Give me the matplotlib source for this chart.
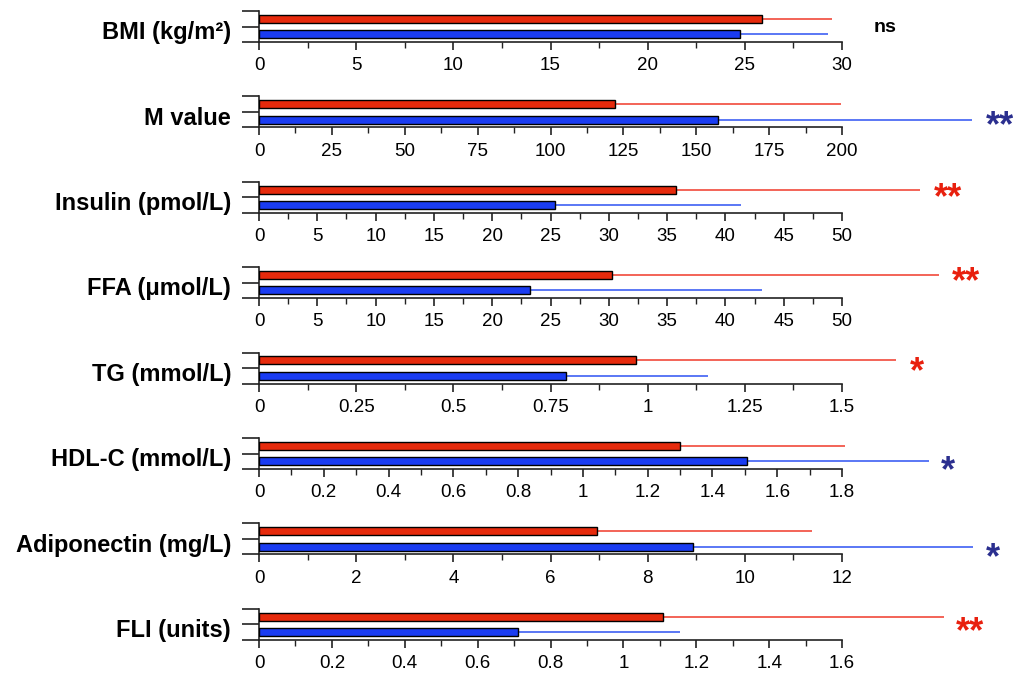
import matplotlib
matplotlib.use("Agg")
import matplotlib.pyplot as plt
from matplotlib.ticker import MultipleLocator, AutoMinorLocator, FuncFormatter

plt.rcParams['font.family'] = ['Liberation Sans', 'DejaVu Sans']

# data: red = upper bar, blue = lower bar
labels = ['BMI (kg/m\u00b2)', 'M value', 'Insulin (pmol/L)', 'FFA (\u03bcmol/L)',
          'TG (mmol/L)', 'HDL-C (mmol/L)', 'Adiponectin (mg/L)', 'FLI (units)']
red_mean = [25.9, 122, 35.8, 30.3, 0.97, 1.30, 6.96, 1.11]
red_sd = [3.6, 77.7, 20.9, 28.0, 0.67, 0.51, 4.42, 0.77]
blue_mean = [24.75, 157.5, 25.4, 23.2, 0.79, 1.507, 8.93, 0.711]
blue_sd = [4.55, 87.1, 15.9, 19.9, 0.365, 0.563, 5.77, 0.444]
xmax = [30, 200, 50, 50, 1.5, 1.8, 12, 1.6]
xstep = [5, 25, 5, 5, 0.25, 0.2, 2, 0.2]
signif = ['ns', '**', '**', '**', '*', '*', '*', '**']
sig_color = ['black', '#2b2f8f', '#e8200e', '#e8200e', '#e8200e', '#2b2f8f', '#2b2f8f', '#e8200e']
sig_x = [885, 1000, 948, 966, 917, 948, 993, 970]
sig_y = [27, 121, 193, 277, 367, 466, 553, 627]

RED = '#e62a0c'
BLUE = '#1a3cf2'
RED_ERR = '#f2574a'
BLUE_ERR = '#4d6cf5'

W, H = 1013, 677
fig = plt.figure(figsize=(W / 100, H / 100), dpi=100)

left = 259 / W
width = 583 / W
ax_h = 31 / H

for i in range(8):
    bottom_px = 42 + i * 85.4
    ax = fig.add_axes([left, 1 - bottom_px / H, width, ax_h])
    ax.set_xlim(0, xmax[i])
    ax.set_ylim(0, 2)

    ax.barh([1.5], [red_mean[i]], height=0.52, color=RED, edgecolor='black', linewidth=1.0, zorder=3)
    ax.barh([0.5], [blue_mean[i]], height=0.52, color=BLUE, edgecolor='black', linewidth=1.0, zorder=3)
    ax.hlines(1.5, red_mean[i], red_mean[i] + red_sd[i], color=RED_ERR, lw=1.3, clip_on=False, zorder=2)
    ax.hlines(0.5, blue_mean[i], blue_mean[i] + blue_sd[i], color=BLUE_ERR, lw=1.3, clip_on=False, zorder=2)

    for s in ['top', 'right']:
        ax.spines[s].set_visible(False)
    ax.spines['left'].set_color('#222222')
    ax.spines['bottom'].set_color('#222222')
    ax.spines['left'].set_linewidth(1.2)
    ax.spines['bottom'].set_linewidth(1.2)

    ax.set_yticks([0, 1, 2])
    ax.set_yticklabels([])
    ax.tick_params(axis='y', direction='out', length=12, width=1.2, color='#222222')

    ax.xaxis.set_major_locator(MultipleLocator(xstep[i]))
    ax.xaxis.set_minor_locator(AutoMinorLocator(2))
    ax.xaxis.set_major_formatter(FuncFormatter(lambda v, p: f'{v:g}'))
    ax.tick_params(axis='x', which='major', direction='out', length=6, width=1.2,
                   labelsize=13.5, pad=5, color='#222222')
    ax.tick_params(axis='x', which='minor', direction='out', length=4, width=1.0, color='#222222')
    ax.patch.set_alpha(0)

    ax.text(-0.048, 0.3, labels[i], transform=ax.transAxes, ha='right', va='center',
            fontsize=17, fontweight='bold')

    if signif[i] == 'ns':
        fig.text(sig_x[i] / W, 1 - sig_y[i] / H, 'ns', ha='center', va='center', fontsize=14,
                 fontweight='bold', color=sig_color[i])
    else:
        # asterisks sit high in the glyph box, shift the text centre down
        fig.text(sig_x[i] / W, 1 - (sig_y[i] + 6) / H, signif[i], ha='center', va='center',
                 fontsize=26, fontweight='bold', color=sig_color[i])

fig.savefig('out.png', dpi=100)
